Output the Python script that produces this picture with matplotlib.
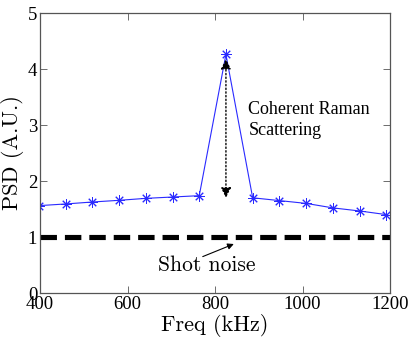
import matplotlib
matplotlib.use('Agg')
import matplotlib.pyplot as plt
import numpy as np

# spectrum
freq = [397.6, 458.7, 519.7, 580.8, 641.8, 702.9, 764.0, 825.0, 886.1, 947.2, 1008.2, 1069.3, 1130.3, 1191.4]
psd = [1.56, 1.59, 1.625, 1.655, 1.69, 1.714, 1.738, 4.26, 1.70, 1.65, 1.60, 1.52, 1.465, 1.40]
shot_level = 1.0
xticks = [400, 600, 800, 1000, 1200]
yticks = [0, 1, 2, 3, 4, 5]

cm = 'cmr10'
times = 'Liberation Serif'

fig = plt.figure(figsize=(4.15, 3.43), dpi=100)
ax = fig.add_axes([40/415, 1 - 293/343, 350/415, 280/343])

ax.plot(freq, psd, color='#2a2aff', lw=0.8, marker=(8, 2, 0), ms=7.5, mew=0.7)
ax.axhline(shot_level, color='k', lw=3.7, dashes=(3.2, 1.55))

# peak arrow (dotted, two heads)
ax.annotate('', xy=(825, 4.18), xytext=(825, 1.70),
            arrowprops=dict(arrowstyle='<|-|>', linestyle=':', lw=1.0, color='k',
                            mutation_scale=15, shrinkA=0, shrinkB=0))
ax.text(876, 3.09, 'Coherent Raman\nScattering', family=times, fontsize=13,
        va='center', ha='left', linespacing=1.35)

# shot noise label
ax.annotate('', xy=(843, 0.875), xytext=(772, 0.65),
            arrowprops=dict(arrowstyle='-|>', lw=0.8, color='k', mutation_scale=9,
                            shrinkA=0, shrinkB=0))
ax.text(781, 0.50, 'Shot noise', family=cm, fontsize=15.5, ha='center', va='center')

ax.set_xlim(400, 1200)
ax.set_ylim(0, 5)
ax.set_xticks(xticks)
ax.set_yticks(yticks)
ax.tick_params(direction='in', length=5, width=0.6, top=True, right=True,
               labelsize=13.5, pad=2, color='#555555')
for lab in ax.get_xticklabels() + ax.get_yticklabels():
    lab.set_family(times)
for sp in ax.spines.values():
    sp.set_linewidth(0.9)
    sp.set_color('#555555')

ax.set_xlabel('Freq (kHz)', family=cm, fontsize=16, labelpad=1)
ax.set_ylabel('PSD (A.U.)', family=cm, fontsize=16, labelpad=3)

fig.savefig('out.png', dpi=100)
